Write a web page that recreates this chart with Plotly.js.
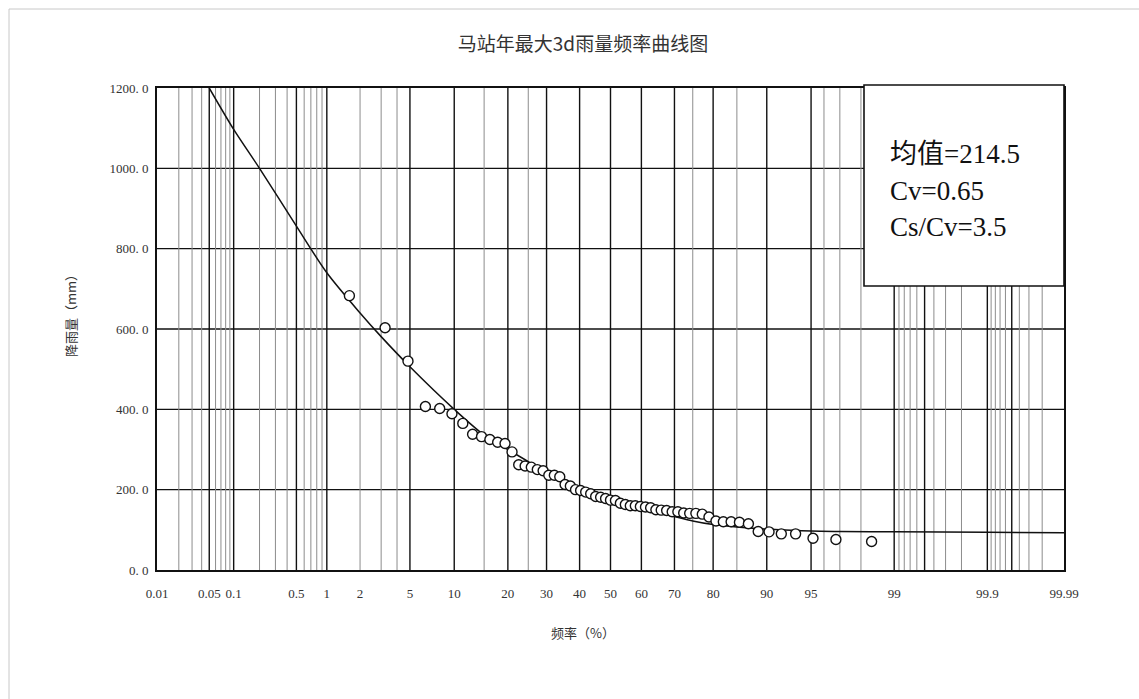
<!DOCTYPE html>
<html>
<head>
<meta charset="utf-8">
<script src="https://cdn.plot.ly/plotly-3.0.1.min.js"></script>
<style>
  html, body { margin: 0; padding: 0; background: #fff; }
  #chart { width: 1139px; height: 699px; }
</style>
</head>
<body>
<div id="chart"></div>
<script>
// Annual maximum 3-day rainfall, sorted from largest to smallest (mm)
const rainfall = [
  683, 603, 520, 407, 402, 389, 365, 338, 332, 325,
  318, 315, 294, 262, 259, 256, 250, 247, 236, 236,
  232, 213, 209, 200, 198, 194, 190, 183, 181, 178,
  174, 173, 166, 163, 160, 160, 158, 157, 155, 150,
  149, 148, 145, 145, 142, 141, 141, 139, 132, 122,
  120, 120, 119, 115, 96, 95, 90, 90, 79, 76, 71
];

// Fitted frequency curve: exceedance frequency (%) and rainfall (mm)
const curveFreq = [0.05, 0.1, 0.2, 0.5, 1, 2, 3, 5, 10, 15, 20, 25, 30, 40, 50, 60, 70, 75, 80, 85, 90, 95, 97, 99, 99.9, 99.99];
const curveRain = [1200, 1097, 1000, 856, 740, 640, 581, 506, 400, 336, 300, 270, 245, 204, 175, 152, 133, 122, 113, 107, 102, 97, 96, 95, 94, 93];

// Probability-paper axis labels and grid
const tickFreq = [0.01, 0.05, 0.1, 0.5, 1, 2, 5, 10, 20, 30, 40, 50, 60, 70, 80, 90, 95, 99, 99.9, 99.99];
const tickText = ['0.01', '0.05', '0.1', '0.5', '1', '2', '5', '10', '20', '30', '40', '50', '60', '70', '80', '90', '95', '99', '99.9', '99.99'];
const majorGrid = [0.05, 0.1, 0.5, 1, 5, 10, 20, 30, 40, 50, 60, 70, 80, 90, 95, 99, 99.5, 99.9, 99.95];
const minorGrid = [0.02, 0.03, 0.04, 0.06, 0.07, 0.08, 0.09, 0.2, 0.3, 0.4, 0.6, 0.7, 0.8, 0.9,
  2, 3, 4, 15, 25, 75, 85, 96, 97, 98, 99.1, 99.2, 99.3, 99.4, 99.6, 99.7, 99.8,
  99.91, 99.92, 99.93, 99.94, 99.96, 99.97, 99.98];
const yTicks = [0, 200, 400, 600, 800, 1000, 1200];

// Parameter box text
const statLines = ['均值=214.5', 'Cv=0.65', 'Cs/Cv=3.5'];

// Inverse standard normal CDF (Acklam), used as the probability-paper scale
function probit(p) {
  const a = [-3.969683028665376e+01, 2.209460984245205e+02, -2.759285104469687e+02, 1.383577518672690e+02, -3.066479806614716e+01, 2.506628277459239e+00];
  const b = [-5.447609879822406e+01, 1.615858368580409e+02, -1.556989798598866e+02, 6.680131188771972e+01, -1.328068155288572e+01];
  const c = [-7.784894002430293e-03, -3.223964580411365e-01, -2.400758277161838e+00, -2.549732539343734e+00, 4.374664141464968e+00, 2.938163982698783e+00];
  const d = [7.784695709041462e-03, 3.224671290700398e-01, 2.445134137142996e+00, 3.754408661907416e+00];
  const pl = 0.02425, ph = 1 - pl;
  let q, r;
  if (p < pl) {
    q = Math.sqrt(-2 * Math.log(p));
    return (((((c[0]*q+c[1])*q+c[2])*q+c[3])*q+c[4])*q+c[5]) / ((((d[0]*q+d[1])*q+d[2])*q+d[3])*q+1);
  }
  if (p <= ph) {
    q = p - 0.5; r = q * q;
    return (((((a[0]*r+a[1])*r+a[2])*r+a[3])*r+a[4])*r+a[5])*q / (((((b[0]*r+b[1])*r+b[2])*r+b[3])*r+b[4])*r+1);
  }
  q = Math.sqrt(-2 * Math.log(1 - p));
  return -(((((c[0]*q+c[1])*q+c[2])*q+c[3])*q+c[4])*q+c[5]) / ((((d[0]*q+d[1])*q+d[2])*q+d[3])*q+1);
}
const toAxis = pct => probit(pct / 100);

// Empirical exceedance frequency P = m / (n + 1)
const n = rainfall.length;
const sampleFreq = rainfall.map((_, i) => (i + 1) / (n + 1) * 100);

const W = 1139, H = 699;
const M = { l: 157, r: 75, t: 88, b: 129 };
const PW = W - M.l - M.r, PH = H - M.t - M.b;
const fx = x => (x - M.l) / PW;        // page pixel -> paper x
const fy = y => (H - M.b - y) / PH;    // page pixel -> paper y

const serif = '"Liberation Serif", "Times New Roman", "Noto Sans CJK SC", serif';
const cjk = '"Noto Sans CJK SC", "Liberation Serif", sans-serif';

const shapes = [];
minorGrid.forEach(f => shapes.push({
  type: 'line', xref: 'x', yref: 'y', layer: 'below',
  x0: toAxis(f), x1: toAxis(f), y0: 0, y1: 1200,
  line: { color: '#8c8c8c', width: 1 }
}));
majorGrid.forEach(f => shapes.push({
  type: 'line', xref: 'x', yref: 'y', layer: 'below',
  x0: toAxis(f), x1: toAxis(f), y0: 0, y1: 1200,
  line: { color: '#111', width: 1.4 }
}));
yTicks.slice(1, -1).forEach(v => shapes.push({
  type: 'line', xref: 'paper', yref: 'y', layer: 'below',
  x0: 0, x1: 1, y0: v, y1: v,
  line: { color: '#111', width: 1.4 }
}));
// outer chart frame (runs past the right and bottom page edges)
shapes.push({
  type: 'rect', xref: 'paper', yref: 'paper', layer: 'above',
  x0: fx(9), x1: fx(1180), y0: fy(740), y1: fy(9),
  line: { color: '#c8c8c8', width: 1 }, fillcolor: 'rgba(0,0,0,0)'
});
// parameter box
shapes.push({
  type: 'rect', xref: 'paper', yref: 'paper', layer: 'above',
  x0: fx(864), x1: fx(1064), y0: fy(286), y1: fy(85),
  line: { color: '#111', width: 1.6 }, fillcolor: '#ffffff'
});

const annotations = [];
statLines.forEach((t, i) => annotations.push({
  xref: 'paper', yref: 'paper',
  x: fx(888), y: fy(154 + i * 36.5),
  xanchor: 'left', yanchor: 'middle', showarrow: false,
  text: t, font: { family: serif, size: 27, color: '#111' }
}));
annotations.push({
  xref: 'paper', yref: 'paper',
  x: fx(70), y: fy(313),
  xanchor: 'center', yanchor: 'middle', showarrow: false, textangle: -90,
  text: '降雨量（mm）', font: { family: cjk, size: 13, color: '#333' }
});
annotations.push({
  xref: 'paper', yref: 'paper',
  x: fx(583), y: fy(632),
  xanchor: 'center', yanchor: 'middle', showarrow: false,
  text: '频率（%）', font: { family: cjk, size: 13, color: '#333' }
});

const traces = [
  {
    x: curveFreq.map(toAxis), y: curveRain,
    type: 'scatter', mode: 'lines',
    line: { color: '#111', width: 1.5, shape: 'spline', smoothing: 0.8 },
    hoverinfo: 'skip', showlegend: false
  },
  {
    x: sampleFreq.map(toAxis), y: rainfall,
    type: 'scatter', mode: 'markers',
    marker: { symbol: 'circle', size: 10, color: '#fff', line: { color: '#111', width: 1.4 } },
    customdata: sampleFreq,
    hovertemplate: '%{customdata:.2f}%<br>%{y} mm<extra></extra>',
    showlegend: false
  }
];

const layout = {
  width: W, height: H,
  margin: M,
  paper_bgcolor: '#fff', plot_bgcolor: '#fff',
  title: {
    text: '马站年最大3d雨量频率曲线图',
    font: { family: cjk, size: 19, color: '#333' },
    x: 583 / W, xref: 'container', xanchor: 'center',
    y: 1 - 44 / H, yref: 'container', yanchor: 'middle'
  },
  xaxis: {
    range: [toAxis(0.01), toAxis(99.99)],
    tickvals: tickFreq.map(toAxis), ticktext: tickText,
    showgrid: false, zeroline: false, ticks: '',
    showline: true, mirror: true, linecolor: '#111', linewidth: 1.6,
    tickfont: { family: serif, size: 13, color: '#333' },
    ticklabelstandoff: 11, fixedrange: true
  },
  yaxis: {
    range: [0, 1200],
    tickvals: yTicks, ticktext: yTicks.map(v => v.toFixed(1).replace('.', '. ')),
    showgrid: false, zeroline: false, ticks: '',
    showline: true, mirror: true, linecolor: '#111', linewidth: 1.6,
    tickfont: { family: serif, size: 13, color: '#333' },
    ticklabelstandoff: 4, fixedrange: true
  },
  shapes: shapes,
  annotations: annotations
};

Plotly.newPlot('chart', traces, layout, { displayModeBar: false, responsive: false });
</script>
</body>
</html>
